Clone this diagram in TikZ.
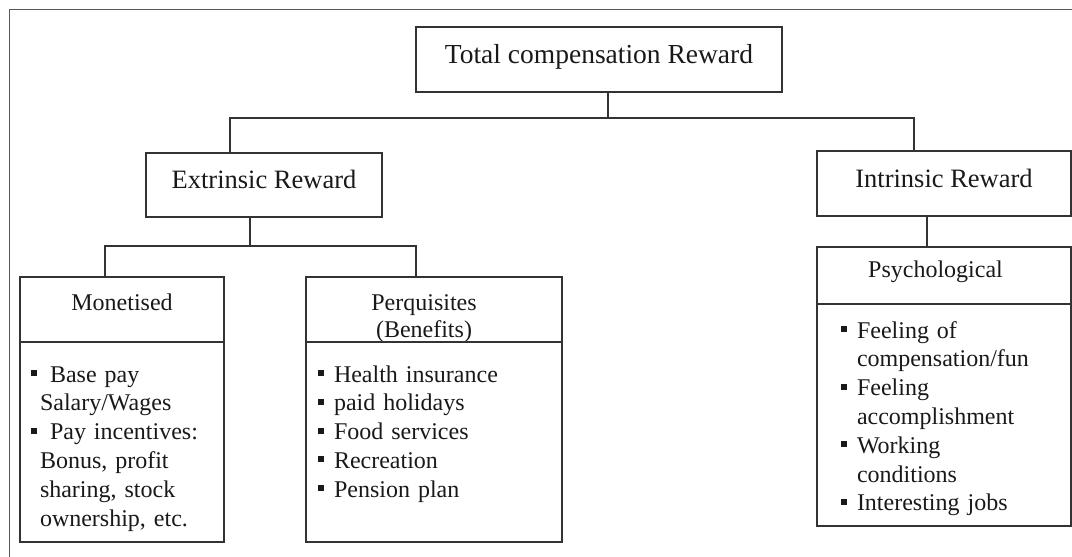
\documentclass[tikz,border=0pt]{standalone}
\usepackage{fontspec}
\setmainfont{Liberation Serif}
\usetikzlibrary{positioning}

\newcommand{\blt}{\rule[6pt]{6pt}{6pt}\hspace{10pt}}
\newcommand{\hang}{\hspace*{16pt}}

\begin{document}
\begin{tikzpicture}[x=1pt,y=-1pt]
\tikzstyle{box}=[draw=black!80, line width=1.3pt, outer sep=0pt, inner sep=0pt, text=black!90]
\tikzstyle{title}=[box, font=\fontsize{26.5}{32}\selectfont, text height=18.5pt, text depth=10.6pt]
\tikzstyle{head}=[box, align=center, font=\fontsize{24}{27}\selectfont]
\tikzstyle{list}=[box, align=left, font=\fontsize{24}{28.8}\selectfont]
\tikzstyle{link}=[draw=black!80, line width=1.3pt]

\useasboundingbox (0,0) rectangle (1072,557);

% frame round the chart
\draw[black!65, line width=1pt] (9.5,557) -- (9.5,9.5) -- (1072,9.5);

\coordinate (total) at (599, 59.5);

\coordinate (ext) at (264, 185);
\coordinate (int) at (944, 183.5);

\coordinate (mon) at (122, 309.5);
\coordinate (perq) at (434, 309.5);
\coordinate (psy) at (944, 275.5);

\coordinate (bus_1) at (608, 118);
\coordinate (bus_2) at (250, 246);


\node[title, minimum width=366pt, minimum height=65pt, font=\fontsize{27.5}{33}\selectfont] (total) at (total) {Total compensation Reward};

\node[title, minimum width=236pt, minimum height=64pt] (ext) at (ext) {Extrinsic Reward};
\node[title, minimum width=254pt, minimum height=65pt] (int) at (int) {Intrinsic Reward};

\node[head, minimum width=204pt, minimum height=65pt, text width=184pt, text height=33pt, text depth=32pt] (mon) at (mon) {Monetised};
\node[head, minimum width=256pt, minimum height=65pt, text width=236pt, text height=33pt, text depth=32pt] (perq) at (perq) {\hspace*{-20pt}Perquisites\\ \hspace*{-20pt}(Benefits)};
\node[head, minimum width=254pt, minimum height=57pt, text width=234pt, text height=30pt, text depth=27pt] (psy) at (psy) {\hspace*{-17pt}Psychological};

\node[list, below=0pt of mon, minimum width=204pt, text width=182pt, text height=40pt, text depth=160pt] (mon_list) {\blt\hspace{3pt}Base pay\\ \hspace*{9pt}Salary/Wages\\ \blt\hspace{3pt}Pay incentives:\\ \hspace*{9pt}Bonus, profit\\ \hspace*{9pt}sharing, stock\\ \hspace*{9pt}ownership, etc.};
\node[list, below=0pt of perq, minimum width=256pt, text width=232pt, text height=40pt, text depth=160pt] (perq_list) {\blt Health insurance\\ \blt paid holidays\\ \blt Food services\\ \blt Recreation\\ \blt Pension plan};
\node[list, below=0pt of psy, minimum width=254pt, text width=206pt, text height=34pt, text depth=188pt] (psy_list) {\blt Feeling of\\ \hang compensation/fun\\ \blt Feeling\\ \hang accomplishment\\ \blt Working\\ \hang conditions\\ \blt Interesting jobs};

\draw[link] (total.south -| bus_1) -- (bus_1) -| ([xshift=-34pt]ext.north);
\draw[link] (bus_1) -| ([xshift=-30pt]int.north);

\draw[link] (ext.south -| bus_2) -- (bus_2) -| ([xshift=-17pt]mon.north);
\draw[link] (bus_2) -| ([xshift=-18pt]perq.north);

\draw[link] ([xshift=-17pt]int.south) -- ([xshift=-17pt]psy.north);

\end{tikzpicture}
\end{document}
